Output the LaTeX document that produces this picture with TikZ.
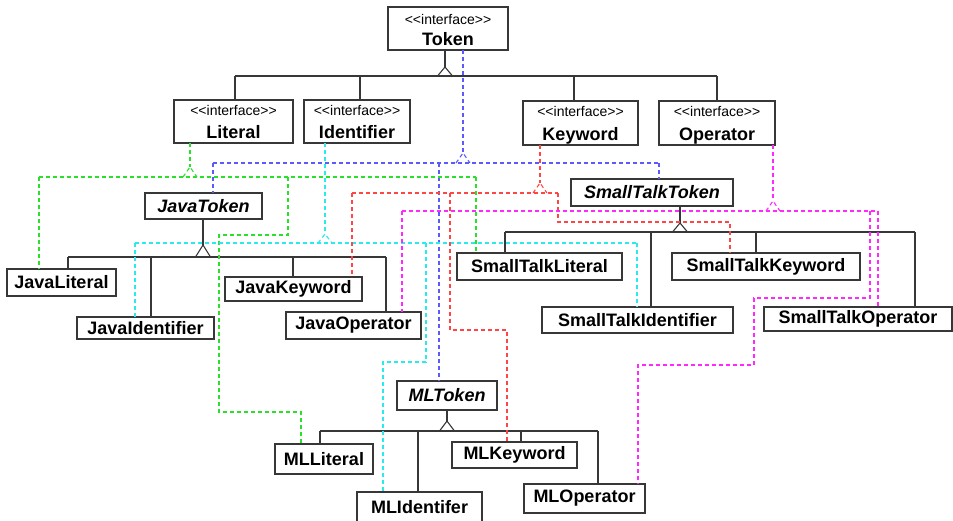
\documentclass[tikz,border=0pt]{standalone}
\usepackage{fontspec}
\newfontfamily\lsans{Liberation Sans}
\usetikzlibrary{calc}
\definecolor{cB}{RGB}{90,90,255}
\definecolor{cG}{RGB}{40,225,40}
\definecolor{cC}{RGB}{40,235,235}
\definecolor{cR}{RGB}{255,70,70}
\definecolor{cM}{RGB}{255,40,255}
\definecolor{edge}{RGB}{55,55,55}
\tikzset{
  box/.style={draw=edge,line width=1.1pt,inner sep=0pt,outer sep=0pt,fill=white},
  nm/.style={inner sep=0pt,font=\lsans\fontsize{18}{21}\selectfont\bfseries},
  stereo/.style={inner sep=0pt,font=\lsans\fontsize{14}{16}\selectfont},
  gen/.style={draw=edge,line width=1.1pt},
  real/.style={line width=1.1pt,dash pattern=on 4pt off 3pt},
  rB/.style={real,draw=cB},
  rG/.style={real,draw=cG},
  rC/.style={real,draw=cC},
  rR/.style={real,draw=cR},
  rM/.style={real,draw=cM}
}
\newcommand\cls[6]{\node[box,minimum width={(#4)-(#2)},minimum height={(#5)-(#3)},font=\lsans\fontsize{18}{21}\selectfont\bfseries] (#1) at ({((#2)+(#4))/2},{((#3)+(#5))/2}) {#6};}
\newcommand\iface[7]{\node[box,minimum width={(#4)-(#2)},minimum height={(#5)-(#3)}] (#1) at ({((#2)+(#4))/2},{((#3)+(#5))/2}) {};
  \node[stereo,anchor=base] (#1S) at ({((#2)+(#4))/2},{(#3)+#7}) {<{}<interface>{}>};
  \node[nm,anchor=base] (#1N) at ({((#2)+(#4))/2},{(#5)-5}) {#6};}
\newcommand\mytri[4]{\draw[#1] ($(#2)+(-#3,#4)$) -- (#2) -- ($(#2)+(#3,#4)$);}
\begin{document}
\begin{tikzpicture}[x=1pt,y=-1pt]
\useasboundingbox (0,0) rectangle (953,520);
% interfaces
\iface{token}{388}{7}{508}{50}{Token}{17}
\iface{lit}{174}{100}{293}{143}{Literal}{15}
\iface{ident}{304}{100}{410}{143}{Identifier}{15}
\iface{kw}{523}{101}{638}{145}{Keyword}{15}
\iface{op}{659}{101}{775}{145}{Operator}{15}
% abstract tokens
\cls{jtok}{145}{193}{262}{219}{\itshape JavaToken}
\cls{sttok}{571}{179}{733}{206}{\itshape SmallTalkToken}
\cls{mltok}{397}{381}{497}{410}{\itshape MLToken}
% java
\cls{jlit}{7}{269}{116}{296}{JavaLiteral}
\cls{jid}{77}{317}{214}{339}{JavaIdentifier}
\cls{jkw}{225}{277}{362}{301}{JavaKeyword}
\cls{jop}{286}{312}{421}{339}{JavaOperator}
% smalltalk
\cls{stlit}{457}{253}{622}{280}{SmallTalkLiteral}
\cls{stid}{542}{307}{733}{333}{SmallTalkIdentifier}
\cls{stkw}{672}{253}{860}{280}{SmallTalkKeyword}
\cls{stop}{764}{307}{952}{331}{SmallTalkOperator}
% ml
\cls{mllit}{275}{444}{373}{474}{MLLiteral}
\cls{mlid}{357}{492}{482}{523}{MLIdentifer}
\cls{mlkw}{452}{442}{577}{468}{MLKeyword}
\cls{mlop}{524}{484}{645}{513}{MLOperator}

% ---------- generalisation: Token ----------
\coordinate (tT) at (445,67);
\coordinate (tL) at (235,76); \coordinate (tA) at (360,76);
\coordinate (tB) at (574,76); \coordinate (tR) at (717,76);
\draw[gen] (token.south -| tT) -- (tT);
\mytri{gen}{tT}{7.5}{9}
\draw[gen] (tL) -- (tR);
\draw[gen] (tL) -- (tL |- lit.north);
\draw[gen] (tA) -- (tA |- ident.north);
\draw[gen] (tB) -- (tB |- kw.north);
\draw[gen] (tR) -- (tR |- op.north);
% ---------- JavaToken ----------
\coordinate (jT) at (203,245);
\coordinate (jL) at (68,257); \coordinate (jA) at (151,257);
\coordinate (jB) at (293,257); \coordinate (jR) at (386,257);
\draw[gen] (jtok.south -| jT) -- (jT);
\mytri{gen}{jT}{7.5}{12}
\draw[gen] (jL) -- (jR);
\draw[gen] (jL) -- (jL |- jlit.north);
\draw[gen] (jA) -- (jA |- jid.north);
\draw[gen] (jB) -- (jB |- jkw.north);
\draw[gen] (jR) -- (jR |- jop.north);
% ---------- SmallTalkToken ----------
\coordinate (sT) at (680,223);
\coordinate (sL) at (505,232); \coordinate (sA) at (651,232);
\coordinate (sB) at (756,232); \coordinate (sR) at (915,232);
\draw[gen] (sttok.south -| sT) -- (sT);
\mytri{gen}{sT}{7.5}{9}
\draw[gen] (sL) -- (sR);
\draw[gen] (sL) -- (sL |- stlit.north);
\draw[gen] (sA) -- (sA |- stid.north);
\draw[gen] (sB) -- (sB |- stkw.north);
\draw[gen] (sR) -- (sR |- stop.north);
% ---------- MLToken ----------
\coordinate (mT) at (447,421);
\coordinate (mL) at (320,431); \coordinate (mA) at (418,431);
\coordinate (mB) at (521,431); \coordinate (mR) at (598,431);
\draw[gen] (mltok.south -| mT) -- (mT);
\mytri{gen}{mT}{7.5}{10}
\draw[gen] (mL) -- (mR);
\draw[gen] (mL) -- (mL |- mllit.north);
\draw[gen] (mA) -- (mA |- mlid.north);
\draw[gen] (mB) -- (mB |- mlkw.north);
\draw[gen] (mR) -- (mR |- mlop.north);

% ---------- realisation: Token (blue) ----------
\coordinate (bT) at (463,153);
\coordinate (bL) at (213,163); \coordinate (bM) at (439,163); \coordinate (bR) at (659,163);
\draw[rB] (token.south -| bT) -- (bT);
\mytri{rB}{bT}{7}{10}
\draw[rB] (bL) -- (bR);
\draw[rB] (bL) -- (bL |- jtok.north);
\draw[rB] (bM) -- (bM |- mltok.north);
\draw[rB] (bR) -- (bR |- sttok.north);
% ---------- Literal (green) ----------
\coordinate (gT) at (190,167);
\coordinate (gL) at (39,177); \coordinate (gM) at (288,177); \coordinate (gR) at (476,177);
\draw[rG] (lit.south -| gT) -- (gT);
\mytri{rG}{gT}{7}{10}
\draw[rG] (gL) -- (gR);
\draw[rG] (gL) -- (gL |- jlit.north);
\draw[rG] (gR) -- (gR |- stlit.north);
\coordinate (gk) at (301,412);
\draw[rG] (gM) -- (288,235) -- (219,235) -- (219,412) -- (gk) -- (gk |- mllit.north);
% ---------- Identifier (cyan) ----------
\coordinate (cT) at (325,234);
\coordinate (cL) at (135,243); \coordinate (cM) at (426,243); \coordinate (cR) at (637,243);
\draw[rC] (ident.south -| cT) -- (cT);
\mytri{rC}{cT}{7}{9}
\draw[rC] (cL) -- (cR);
\draw[rC] (cL) -- (cL |- jid.north);
\draw[rC] (cR) -- (cR |- stid.north);
\coordinate (ck) at (383,362);
\draw[rC] (cM) -- (426,362) -- (ck) -- (ck |- mlid.north);
% ---------- Keyword (red) ----------
\coordinate (rT) at (540,183);
\coordinate (rL) at (352,193); \coordinate (rM) at (450,193); \coordinate (rR) at (558,193);
\draw[rR] (kw.south -| rT) -- (rT);
\mytri{rR}{rT}{7}{10}
\draw[rR] (rL) -- (rR);
\draw[rR] (rL) -- (rL |- jkw.north);
\coordinate (rk1) at (730,222);
\draw[rR] (rR) -- (558,222) -- (rk1) -- (rk1 |- stkw.north);
\coordinate (rk2) at (507,330);
\draw[rR] (rM) -- (450,330) -- (rk2) -- (rk2 |- mlkw.north);
% ---------- Operator (magenta) ----------
\coordinate (pT) at (773,201);
\coordinate (pL) at (402,211); \coordinate (pM) at (870,211); \coordinate (pR) at (878,211);
\draw[rM] (op.south -| pT) -- (pT);
\mytri{rM}{pT}{7}{10}
\draw[rM] (pL) -- (pR);
\draw[rM] (pL) -- (pL |- jop.north);
\draw[rM] (pR) -- (pR |- stop.north);
\coordinate (pk) at (638,365);
\draw[rM] (pM) -- (870,298) -- (754,298) -- (754,365) -- (pk) -- (pk |- mlop.north);
\end{tikzpicture}
\end{document}
